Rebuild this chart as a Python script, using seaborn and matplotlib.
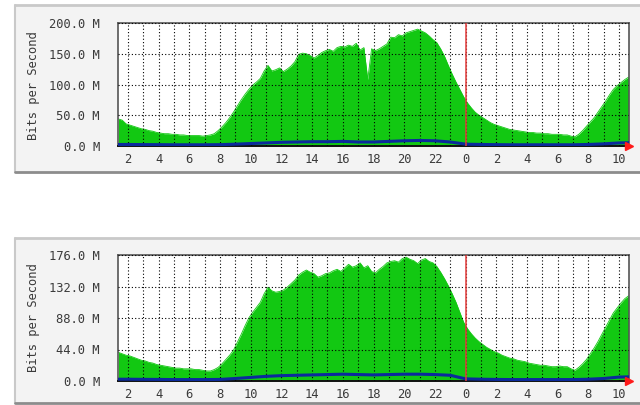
import numpy as np
import pandas as pd
import matplotlib
matplotlib.use("Agg")
import matplotlib.pyplot as plt
import seaborn as sns
from matplotlib.patches import Rectangle
from matplotlib.lines import Line2D

# Sample times in hours (24 = midnight, values past 24 belong to the next day)
sample_hours = 1.375 + 0.25 * np.arange(134)
hourly = 1.0 + np.arange(35)

# Upper graph: incoming (green area) and outgoing (blue line), Mbit/s
in_upper = [44, 42, 36, 34, 32, 30, 28, 27, 25, 24, 22, 21, 20, 20, 19, 19,
            18, 18, 17, 17, 17, 17, 16, 17, 18, 20, 25, 31, 38, 46, 55, 65,
            75, 84, 92, 99, 104, 110, 122, 131, 122, 124, 127, 121, 125, 130, 137, 149,
            151, 150, 147, 143, 147, 152, 155, 157, 154, 160, 162, 161, 164, 162, 167, 156,
            160, 108, 158, 155, 158, 162, 166, 177, 176, 181, 179, 184, 186, 188, 190, 187,
            184, 179, 173, 168, 158, 146, 131, 117, 104, 92, 80, 70, 62, 55, 50, 46,
            42, 38, 35, 33, 31, 29, 27, 26, 25, 24, 23, 22, 22, 21, 21, 20,
            20, 19, 19, 19, 18, 18, 16, 15, 19, 25, 32, 39, 46, 55, 64, 73,
            83, 92, 98, 103, 108, 112]
out_upper = [2.5, 2.5, 2.3, 2.2, 2.0, 2.0, 2.0, 2.2, 3.0, 4.0, 5.0, 6.0, 6.5, 7.0,
             7.0, 7.5, 6.5, 6.5, 7.5, 8.5, 9.0, 8.5, 6.5, 3.0, 2.5, 2.2, 2.0, 2.0,
             2.0, 2.0, 2.0, 2.5, 3.5, 5.0, 5.5]

# Lower graph
in_lower = [40, 38, 36, 35, 33, 31, 29, 28, 26, 25, 23, 22, 21, 20, 19, 18,
            18, 17, 17, 17, 16, 16, 15, 14, 14, 16, 19, 24, 30, 36, 43, 54,
            65, 77, 88, 96, 103, 110, 122, 131, 126, 124, 125, 127, 131, 136, 141, 148,
            152, 155, 152, 150, 145, 147, 150, 151, 154, 156, 153, 158, 163, 159, 161, 165,
            158, 161, 153, 151, 156, 160, 165, 167, 168, 166, 171, 173, 170, 168, 164, 169,
            171, 167, 165, 160, 152, 143, 133, 122, 110, 96, 82, 73, 66, 60, 55, 51,
            47, 44, 41, 39, 36, 34, 32, 31, 29, 28, 27, 25, 24, 23, 22, 22,
            21, 20, 20, 21, 20, 20, 17, 15, 19, 24, 30, 38, 46, 55, 65, 75,
            85, 95, 102, 109, 115, 119]
out_lower = [2.5, 2.5, 2.3, 2.2, 2.0, 2.0, 2.0, 2.2, 3.5, 5.0, 6.5, 7.5, 8.0, 8.5,
             9.0, 9.5, 9.0, 8.5, 9.0, 9.5, 9.5, 9.0, 8.0, 3.0, 2.5, 2.2, 2.0, 2.0,
             2.0, 2.0, 2.0, 2.5, 3.5, 5.5, 6.0]

upper_yticks = [0, 50, 100, 150, 200]
lower_yticks = [0, 44, 88, 132, 176]
x_tick_hours = list(range(2, 35, 2))
x_tick_labels = [str(h % 24) for h in x_tick_hours]

GREEN = "#12c812"
BLUE = "#0b2a9c"
TEXT = "#3a3a3a"
X_MIN, X_MAX = 1.35, 34.65
FS = 8.7

sns.set_style("white")
plt.rcParams["font.family"] = ["DejaVu Sans Mono"]

W, H = 640, 405
fig = plt.figure(figsize=(W / 100, H / 100), dpi=100)
fig.patch.set_facecolor("white")


def panel_box(x0, y0, x1, y1):
    """Light grey frame with a bevelled border (pixel coordinates, top-left origin)."""
    fx0, fx1 = x0 / W, x1 / W
    fy0, fy1 = 1 - y1 / H, 1 - y0 / H
    fig.patches.append(Rectangle((fx0, fy0), fx1 - fx0, fy1 - fy0, transform=fig.transFigure,
                                 facecolor="#f3f3f3", edgecolor="none", zorder=-10))
    for xs, ys, c, w in [([fx0, fx1], [fy1, fy1], "#c9c9c9", 2),
                         ([fx0, fx0], [fy0, fy1], "#c9c9c9", 1.5),
                         ([fx0, fx1], [fy0, fy0], "#8c8c8c", 2)]:
        fig.lines.append(Line2D(xs, ys, transform=fig.transFigure, color=c, lw=w, zorder=-5))


def draw_panel(rect, incoming, outgoing, yticks):
    ax = fig.add_axes(rect)
    ax.set_facecolor("white")
    df_in = pd.DataFrame({"hour": sample_hours, "bps": incoming})
    df_out = pd.DataFrame({"hour": hourly, "bps": outgoing})

    ax.fill_between(df_in["hour"], df_in["bps"], color=GREEN, lw=0, zorder=1)
    sns.lineplot(data=df_in, x="hour", y="bps", ax=ax, color=GREEN, lw=0.6, zorder=1.5)
    sns.lineplot(data=df_out, x="hour", y="bps", ax=ax, color=BLUE, lw=2.2, zorder=3)
    ax.axvline(24, color="#e33b3b", lw=1.1, zorder=4)

    ax.set_xlim(X_MIN, X_MAX)
    ax.set_ylim(yticks[0], yticks[-1])
    ax.set_xticks(x_tick_hours)
    ax.set_xticklabels(x_tick_labels)
    ax.set_xticks(np.arange(2, 35, 1), minor=True)
    ax.set_yticks(yticks)
    ax.set_yticklabels([f"{v:.1f} M" for v in yticks])
    ax.set_xlabel("")
    ax.set_ylabel("")

    ax.set_axisbelow(False)
    ax.grid(True, axis="x", which="both", color="black", lw=0.8, ls=(0, (1, 2)))
    ax.grid(True, axis="y", which="major", color="black", lw=0.8, ls=(0, (1, 2)))

    ax.tick_params(axis="x", which="both", direction="inout", length=6, width=1,
                   color="#222222", labelsize=FS, labelcolor=TEXT, pad=2)
    ax.tick_params(axis="y", which="major", direction="inout", length=8, width=1,
                   color="#222222", labelsize=FS, labelcolor=TEXT, pad=9)

    for sp in ax.spines.values():
        sp.set_visible(True)
        sp.set_color("#555555")
        sp.set_linewidth(1.2)
    ax.spines["bottom"].set_color("#111111")
    ax.spines["bottom"].set_linewidth(1.4)

    ax.plot([X_MAX], [yticks[0]], marker=">", color="#ff1a1a", ms=6,
            clip_on=False, zorder=6)
    return ax


# Upper graph
panel_box(15, 5, 642, 172)
draw_panel([118 / W, 1 - 146 / H, (629 - 118) / W, (146 - 23) / H],
           in_upper, out_upper, upper_yticks)
fig.text(33 / W, 1 - 86 / H, "Bits per Second", rotation=90, ha="center", va="center",
         fontsize=FS, color=TEXT)

# Lower graph
panel_box(15, 238, 642, 403)
draw_panel([118 / W, 1 - 381 / H, (629 - 118) / W, (381 - 255) / H],
           in_lower, out_lower, lower_yticks)
fig.text(33 / W, 1 - 318 / H, "Bits per Second", rotation=90, ha="center", va="center",
         fontsize=FS, color=TEXT)

fig.savefig("out.png", dpi=100, facecolor=fig.get_facecolor())
